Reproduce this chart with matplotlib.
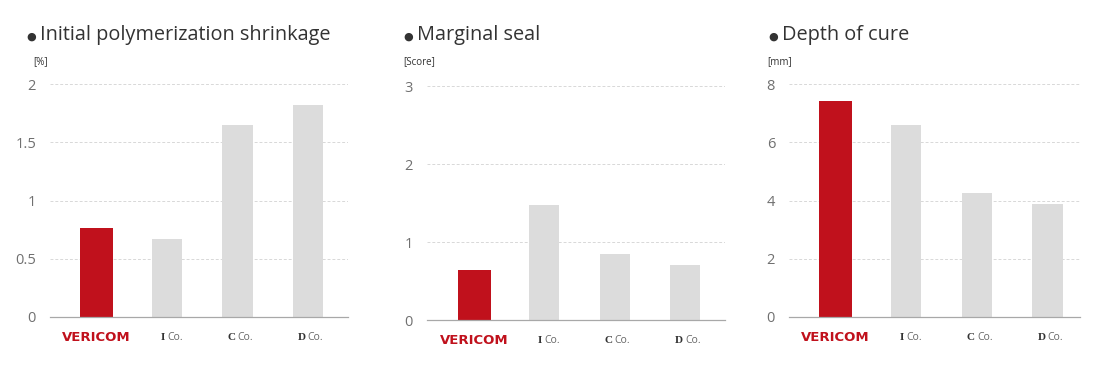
import matplotlib.pyplot as plt

plt.rcParams['font.family'] = ['Open Sans', 'DejaVu Sans']

# data
companies = ['VERICOM', 'I', 'C', 'D']
titles = ['Initial polymerization shrinkage', 'Marginal seal', 'Depth of cure']
units = ['[%]', '[Score]', '[mm]']
shrinkage = [0.76, 0.67, 1.65, 1.82]
marginal_seal = [0.64, 1.47, 0.85, 0.70]
depth_of_cure = [7.4, 6.6, 4.25, 3.88]
yticks = [[0, 0.5, 1, 1.5, 2], [0, 1, 2, 3], [0, 2, 4, 6, 8]]
ytick_labels = [['0', '0.5', '1', '1.5', '2'], ['0', '1', '2', '3'], ['0', '2', '4', '6', '8']]

values = [shrinkage, marginal_seal, depth_of_cure]

RED = '#C0111C'
GRAY = '#DCDCDC'

fig = plt.figure(figsize=(11, 3.68), dpi=100)

# axes rectangles [left, bottom, width, height] in figure fraction
rects = [
    [50 / 1100, 1 - 317 / 368, 298 / 1100, 233 / 368],
    [427 / 1100, 1 - 320 / 368, 298 / 1100, 234 / 368],
    [789 / 1100, 1 - 317 / 368, 291 / 1100, 233 / 368],
]
xlims = [(-0.66, 3.57), (-0.67, 3.57), (-0.66, 3.46)]
title_x = [27, 404, 769]
unit_x = [33, 403, 767]

for k in range(3):
    ax = fig.add_axes(rects[k])
    vals = values[k]
    xs = range(len(vals))
    colors = [RED] + [GRAY] * (len(vals) - 1)
    widths = [0.47] + [0.43] * (len(vals) - 1)
    ax.bar(xs, vals, width=widths, color=colors, zorder=3)

    ax.set_xlim(*xlims[k])
    ax.set_ylim(yticks[k][0], yticks[k][-1])
    ax.set_yticks(yticks[k])
    ax.set_yticklabels(ytick_labels[k])
    ax.grid(axis='y', color='#d8d8d8', linestyle=(0, (3, 2)), linewidth=0.7, zorder=0)
    ax.set_xticks([])
    ax.tick_params(axis='y', length=0, pad=10, labelsize=10.5, labelcolor='#707070')
    for s in ['top', 'right', 'left']:
        ax.spines[s].set_visible(False)
    ax.spines['bottom'].set_color('#a8a8a8')
    ax.spines['bottom'].set_linewidth(0.9)
    ax.spines['bottom'].set_zorder(4)

    # category labels under the bars
    for i, name in enumerate(companies):
        if name == 'VERICOM':
            ax.annotate(name, xy=(i, 0), xycoords=('data', 'axes fraction'),
                        xytext=(0, -15), textcoords='offset points',
                        ha='center', va='center', fontsize=9.5, color=RED,
                        fontweight='bold', family='DejaVu Sans')
        else:
            ax.annotate(name, xy=(i, 0), xycoords=('data', 'axes fraction'),
                        xytext=(-1.5, -15), textcoords='offset points',
                        ha='right', va='center', fontsize=8, color='#333333',
                        fontweight='bold', family='Liberation Serif')
            ax.annotate('Co.', xy=(i, 0), xycoords=('data', 'axes fraction'),
                        xytext=(0, -15), textcoords='offset points',
                        ha='left', va='center', fontsize=7.5, color='#666666')

    fig.text((title_x[k] - 1) / 1100, 1 - 37 / 368, '\u25cf',
             fontsize=8, color='#333333', va='center', ha='left')
    fig.text((title_x[k] + 13) / 1100, 1 - 35 / 368, titles[k],
             fontsize=14.3, color='#333333', va='center', ha='left')
    fig.text(unit_x[k] / 1100, 1 - 62 / 368, units[k],
             fontsize=7, color='#333333', va='center', ha='left')

fig.savefig('out.png', dpi=100)
